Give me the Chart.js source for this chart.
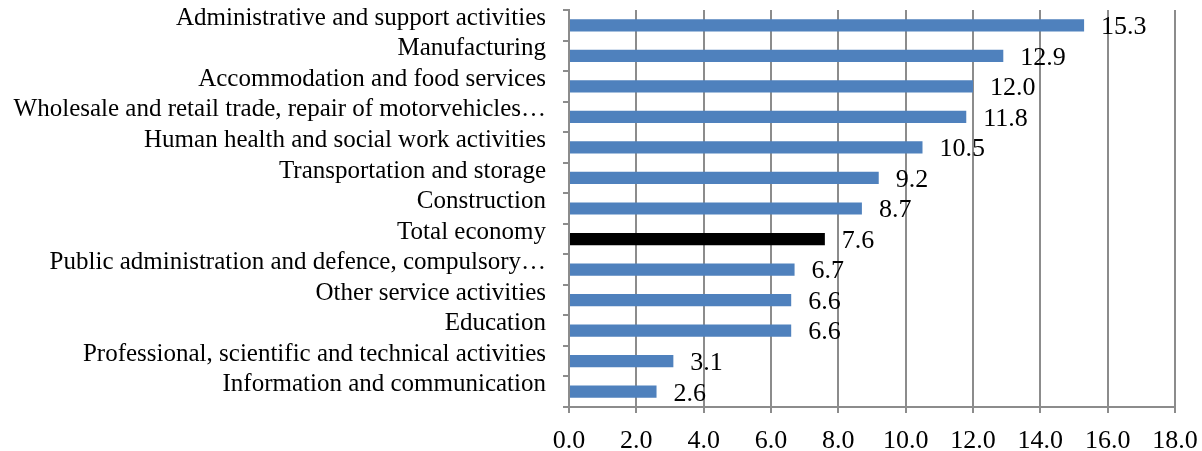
<!DOCTYPE html>
<html>
<head>
<meta charset="utf-8">
<script src="https://cdn.jsdelivr.net/npm/chart.js@4/dist/chart.umd.min.js"></script>
<style>
  html, body { margin: 0; padding: 0; background: #fff; }
</style>
</head>
<body>
<canvas id="chart" width="1202" height="451"></canvas>
<script>
// secteurs (du haut vers le bas)
const categories = [
  'Administrative and support activities',
  'Manufacturing',
  'Accommodation and food services',
  'Wholesale and retail trade, repair of motorvehicles…',
  'Human health and social work activities',
  'Transportation and storage',
  'Construction',
  'Total economy',
  'Public administration and defence, compulsory…',
  'Other service activities',
  'Education',
  'Professional, scientific and technical activities',
  'Information and communication'
];
const values = [15.3, 12.9, 12.0, 11.8, 10.5, 9.2, 8.7, 7.6, 6.7, 6.6, 6.6, 3.1, 2.6];
const highlight = 'Total economy';
const xTicks = [0, 2, 4, 6, 8, 10, 12, 14, 16, 18];

const fontFamily = "'Liberation Serif', 'Times New Roman', serif";
const gridColor = '#8c8c8c';

// couleurs : noir pour le total, bleu pour le reste
const barColors = categories.map(c => c === highlight ? '#000000' : '#4f81bd');

// étiquettes de valeur à droite des barres
const valueLabels = {
  id: 'valueLabels',
  afterDatasetsDraw(chart) {
    const ctx = chart.ctx;
    const meta = chart.getDatasetMeta(0);
    ctx.save();
    ctx.font = '26px ' + fontFamily;
    ctx.fillStyle = '#000';
    ctx.textAlign = 'left';
    ctx.textBaseline = 'middle';
    meta.data.forEach((bar, i) => {
      ctx.fillText(values[i].toFixed(1), bar.x + 17, bar.y + 2);
    });
    ctx.restore();
  }
};

new Chart(document.getElementById('chart').getContext('2d'), {
  type: 'bar',
  data: {
    labels: categories,
    datasets: [{
      data: values,
      backgroundColor: barColors,
      borderWidth: 0,
      categoryPercentage: 1.0,
      barPercentage: 0.4
    }]
  },
  options: {
    indexAxis: 'y',
    responsive: false,
    animation: false,
    layout: { padding: { top: 10, right: 27, left: 0, bottom: 0 } },
    plugins: {
      legend: { display: false },
      tooltip: { enabled: false }
    },
    scales: {
      x: {
        min: 0,
        max: 18,
        afterBuildTicks: axis => { axis.ticks = xTicks.map(v => ({ value: v })); },
        afterFit: axis => {
          axis.height = 44;
          axis.paddingLeft = 0;
          axis.paddingRight = 0;
        },
        grid: {
          color: gridColor,
          lineWidth: 2,
          tickLength: 6,
          drawTicks: true
        },
        border: { display: true, color: gridColor, width: 2 },
        ticks: {
          color: '#000',
          padding: 13,
          maxRotation: 0,
          font: { family: fontFamily, size: 26 },
          callback: v => Number(v).toFixed(1)
        }
      },
      y: {
        afterFit: axis => {
          axis.width = 569;
          axis.paddingTop = 0;
          axis.paddingBottom = 0;
        },
        grid: {
          offset: true,
          drawOnChartArea: false,
          drawTicks: true,
          tickLength: 6,
          color: gridColor,
          lineWidth: 2
        },
        border: { display: true, color: gridColor, width: 2 },
        ticks: {
          color: '#000',
          padding: 17,
          labelOffset: -7,
          autoSkip: false,
          font: { family: fontFamily, size: 25 }
        }
      }
    }
  },
  plugins: [valueLabels]
});
</script>
</body>
</html>
